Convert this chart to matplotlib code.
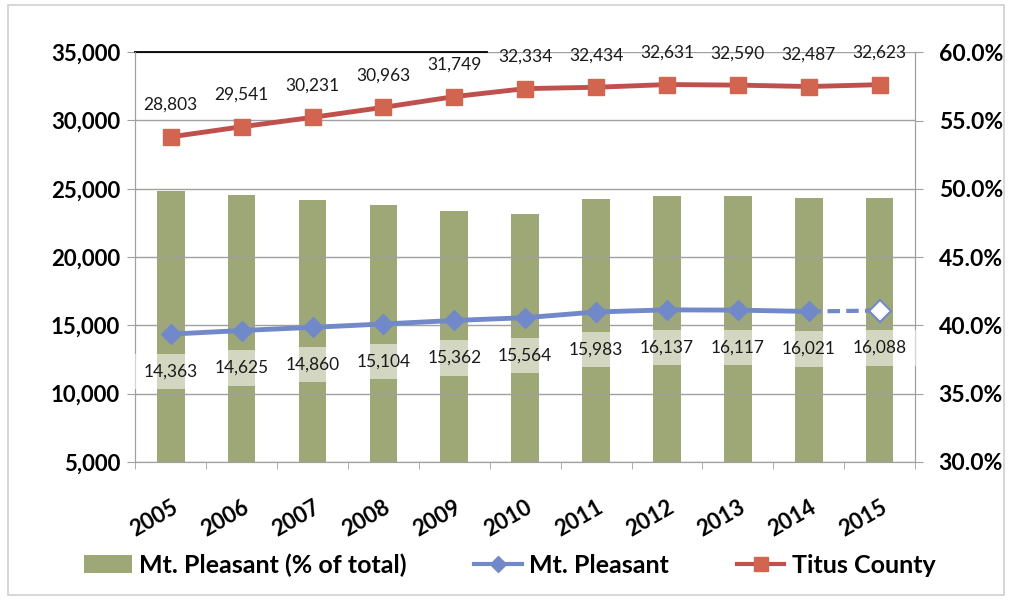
import matplotlib.pyplot as plt
from matplotlib.lines import Line2D
from matplotlib.patches import Patch, Rectangle
import numpy as np

# data
years = ["2005", "2006", "2007", "2008", "2009", "2010",
         "2011", "2012", "2013", "2014", "2015"]
titus = [28803, 29541, 30231, 30963, 31749, 32334,
         32434, 32631, 32590, 32487, 32623]
mt_pleasant = [14363, 14625, 14860, 15104, 15362, 15564,
               15983, 16137, 16117, 16021, 16088]
mt_share = [0.4987, 0.4951, 0.4915, 0.4878, 0.4839, 0.4813,
            0.4928, 0.4945, 0.4945, 0.4932, 0.4931]

plt.rcParams['font.family'] = ['Lato', 'DejaVu Sans']

bar_col = "#9ea776"
red = "#c0504d"
red_mk = "#d2654f"
blue = "#7189c9"
grid_col = "#a0a0a0"

fig = plt.figure(figsize=(10.1, 6.0), dpi=100)
fig.patches.append(Rectangle((0.008, 0.008), 0.986, 0.984, transform=fig.transFigure,
                             fill=False, edgecolor="#d0d0d0", lw=1.2))

ax = fig.add_axes([0.134, 0.23, 0.772, 0.683])
ax2 = ax.twinx()

x = np.arange(len(years))

# bars on the percentage axis
ax2.bar(x, mt_share, width=0.39, color=bar_col, zorder=1)
ax2.set_ylim(0.30, 0.60)
ax2.set_yticks(np.arange(0.30, 0.601, 0.05))
ax2.set_yticklabels([f"{v*100:.1f}%" for v in np.arange(0.30, 0.601, 0.05)],
                    fontsize=16.5, fontweight="bold")

# lines on the population axis, drawn on top
ax.set_zorder(ax2.get_zorder() + 1)
ax.patch.set_visible(False)

ax.plot(x, titus, color=red, lw=3.5, marker="s", markersize=12,
        markerfacecolor=red_mk, markeredgecolor=red_mk, zorder=4)
ax.plot(x[:-1], mt_pleasant[:-1], color=blue, lw=3.5, marker="D", markersize=10,
        markerfacecolor=blue, markeredgecolor=blue, zorder=4)
ax.plot(x[-2:], mt_pleasant[-2:], color=blue, lw=3, ls=(0, (3, 1.5)), zorder=3)
ax.plot(x[-1], mt_pleasant[-1], marker="D", markersize=11, markerfacecolor="white",
        markeredgecolor=blue, markeredgewidth=1.5, ls="none", zorder=5)

for xi, v in zip(x, titus):
    ax.annotate(f"{v:,}", (xi, v), xytext=(0, 23), textcoords="offset points",
                ha="center", va="center", fontsize=12.5, color="#1a1a1a")
for xi, v in zip(x, mt_pleasant):
    ax.annotate(f"{v:,}", (xi, v), xytext=(0, -27), textcoords="offset points",
                ha="center", va="center", fontsize=12.5, color="#1a1a1a",
                bbox=dict(boxstyle="square,pad=0.55", fc="white", ec="none", alpha=0.55))

ax.set_ylim(5000, 35000)
ax.set_xlim(-0.5, len(years) - 0.5)
ax.set_yticks(range(5000, 35001, 5000))
ax.set_yticklabels([f"{v:,}" for v in range(5000, 35001, 5000)],
                   fontsize=16, fontweight="bold")
ax.grid(axis="y", color=grid_col, lw=1)
ax.set_axisbelow(True)

ax.set_xticks(x)
ax.set_xticklabels(years, rotation=30, ha="right", va="top", rotation_mode="anchor",
                   fontsize=16, fontweight="bold")
ax.set_xticks(np.arange(-0.5, len(years), 1), minor=True)
ax.tick_params(axis="x", which="major", length=0, pad=25)
ax.tick_params(axis="x", which="minor", length=5, color=grid_col)
ax.tick_params(axis="y", length=6, color=grid_col, pad=5)
ax2.tick_params(axis="y", length=6, color=grid_col, pad=11)

for a in (ax, ax2):
    a.spines["top"].set_visible(False)
    for s in ("left", "right", "bottom"):
        a.spines[s].set_color(grid_col)

# short black line along the top
ax.plot([0, 0.451], [1, 1], transform=ax.transAxes, color="black", lw=1.3, clip_on=False)

handles = [
    Patch(facecolor=bar_col, edgecolor="none"),
    Line2D([], [], color=blue, lw=3, marker="D", markersize=8),
    Line2D([], [], color=red, lw=3, marker="s", markersize=10,
           markerfacecolor=red_mk, markeredgecolor=red_mk),
]
labels = ["Mt. Pleasant (% of total)", "Mt. Pleasant", "Titus County"]
leg = fig.legend(handles, labels, loc="center", bbox_to_anchor=(0.505, 0.058), ncol=3,
                 frameon=False, handlelength=1.9, columnspacing=2.7, handletextpad=0.3,
                 prop={"size": 18, "weight": "bold"})

fig.savefig("out.png", dpi=100)
